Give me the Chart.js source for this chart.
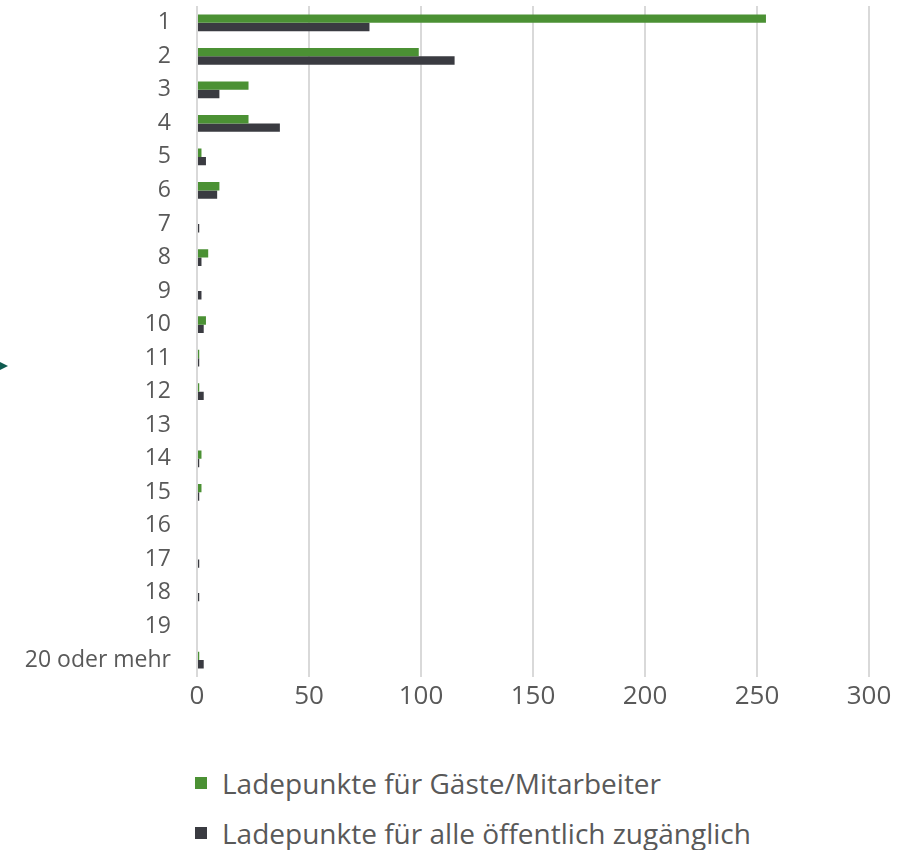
<!DOCTYPE html>
<html lang="de">
<head>
    <meta charset="UTF-8">
    <title>Ladepunkte je Standort</title>
    <script src="https://cdn.jsdelivr.net/npm/chart.js"></script>
    <style>
        body {
            margin: 0;
            background: white;
            font-family: 'Open Sans', sans-serif;
            color: #595959;
        }
        .wrap {
            position: relative;
            width: 920px;
            height: 850px;
        }
        .chart-container {
            position: absolute;
            left: 0;
            top: 0;
            width: 920px;
            height: 720px;
        }
        .legend {
            position: absolute;
            left: 195px;
            top: 766px;
        }
        .legend-item {
            display: flex;
            align-items: center;
            height: 34px;
            margin-bottom: 16px;
            font-size: 28px;
            white-space: nowrap;
        }
        .legend-color {
            width: 12px;
            height: 12px;
            margin-right: 15px;
        }
        .pointer {
            position: absolute;
            left: 0;
            top: 362px;
            width: 0;
            height: 0;
            border-top: 4px solid transparent;
            border-bottom: 4px solid transparent;
            border-left: 8px solid #0e5a4f;
        }
    </style>
</head>
<body>
<div class="wrap">
    <div class="chart-container">
        <canvas id="barChart"></canvas>
    </div>
    <div class="pointer"></div>
    <div class="legend" id="legend"></div>
</div>

<script>
    // Anzahl Ladepunkte pro Standort
    const categories = ['1', '2', '3', '4', '5', '6', '7', '8', '9', '10',
        '11', '12', '13', '14', '15', '16', '17', '18', '19', '20 oder mehr'];
    const gaesteMitarbeiter = [254, 99, 23, 23, 2, 10, 0, 5, 0, 4,
        1, 1, 0, 2, 2, 0, 0, 0, 0, 1];
    const oeffentlich = [77, 115, 10, 37, 4, 9, 1, 2, 2, 3,
        1, 3, 0, 1, 1, 0, 1, 1, 0, 3];
    const seriesNames = ['Ladepunkte für Gäste/Mitarbeiter', 'Ladepunkte für alle öffentlich zugänglich'];
    const seriesColors = ['#4b9134', '#3a3b41'];
    const xTicks = [0, 50, 100, 150, 200, 250, 300];

    const textColor = '#595959';
    const gridColor = '#d9d9d9';

    const ctx = document.getElementById('barChart').getContext('2d');

    new Chart(ctx, {
        type: 'bar',
        data: {
            labels: categories,
            datasets: [gaesteMitarbeiter, oeffentlich].map((values, i) => ({
                label: seriesNames[i],
                data: values,
                backgroundColor: seriesColors[i],
                borderWidth: 0,
                categoryPercentage: 0.5,
                barPercentage: 1.0
            }))
        },
        options: {
            indexAxis: 'y',
            responsive: true,
            maintainAspectRatio: false,
            animation: false,
            layout: {
                padding: { top: 6, right: 51, bottom: 4, left: 0 }
            },
            scales: {
                x: {
                    min: xTicks[0],
                    max: xTicks[xTicks.length - 1],
                    afterBuildTicks: scale => {
                        scale.ticks = xTicks.map(v => ({ value: v }));
                    },
                    grid: {
                        color: gridColor,
                        lineWidth: 2,
                        drawTicks: false
                    },
                    border: { display: false },
                    ticks: {
                        color: textColor,
                        padding: 4,
                        font: { family: "'Open Sans', sans-serif", size: 26 }
                    }
                },
                y: {
                    afterFit: scale => {
                        scale.width = 197;
                        scale.paddingTop = 0;
                        scale.paddingBottom = 0;
                    },
                    grid: { display: false, drawTicks: false },
                    border: { display: false },
                    ticks: {
                        color: textColor,
                        padding: 26,
                        autoSkip: false,
                        font: { family: "'Open Sans', sans-serif", size: 23 }
                    }
                }
            },
            plugins: {
                legend: { display: false },
                tooltip: { enabled: false }
            }
        }
    });

    // Legende als HTML, untereinander
    const legend = document.getElementById('legend');
    seriesNames.forEach((name, i) => {
        const item = document.createElement('div');
        item.className = 'legend-item';
        item.innerHTML = '<div class="legend-color" style="background:' + seriesColors[i] + '"></div><span>' + name + '</span>';
        legend.appendChild(item);
    });
</script>
</body>
</html>
